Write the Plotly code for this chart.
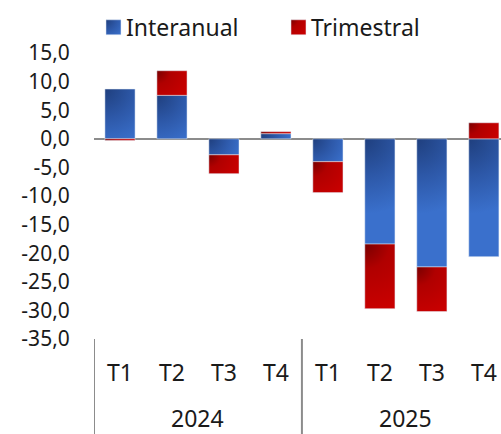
import plotly.graph_objects as go

years = ["2024", "2024", "2024", "2024", "2025", "2025", "2025", "2025"]
quarters = ["T1", "T2", "T3", "T4", "T1", "T2", "T3", "T4"]
interanual = [8.7, 7.6, -2.8, 0.9, -4.0, -18.4, -22.4, -20.6]
trimestral = [-0.3, 4.3, -3.3, 0.35, -5.4, -11.3, -7.8, 2.8]
year_groups = ["2024", "2025"]
ytick_vals = [15, 10, 5, 0, -5, -10, -15, -20, -25, -30, -35]
ytick_text = ["15,0", "10,0", "5,0", "0,0", "-5,0", "-10,0", "-15,0", "-20,0", "-25,0", "-30,0", "-35,0"]

BLUE = "#2e5aa8"
RED = "#b30000"
GRAY = "#8c8c8c"

cats = [f"{q} {y}" for q, y in zip(quarters, years)]

fig = go.Figure()
fig.add_trace(go.Bar(x=cats, y=interanual, name="Interanual", marker_color=BLUE))
fig.add_trace(go.Bar(x=cats, y=trimestral, name="Trimestral", marker_color=RED))

# group dividers and year labels
n_per = len(cats) // len(year_groups)
for gi, yr in enumerate(year_groups):
    start = gi * n_per - 0.5
    fig.add_shape(type="line", xref="x", yref="paper", x0=start, x1=start, y0=0, y1=-0.34,
                  line=dict(color=GRAY, width=2), layer="above")
    fig.add_annotation(text=yr, xref="x", yref="paper", x=start + n_per / 2, y=-0.277,
                       showarrow=False, yanchor="middle", xanchor="center",
                       font=dict(size=23, color="#1a1a1a", family="Noto Sans"))

fig.update_layout(
    width=501, height=434,
    barmode="relative", bargap=0.42,
    plot_bgcolor="white", paper_bgcolor="white",
    font=dict(family="Noto Sans", size=23, color="#1a1a1a"),
    margin=dict(l=94, r=0, t=53, b=95),
    showlegend=True,
    legend=dict(orientation="h", xref="container", yref="container",
                x=0.1866, y=0.937, xanchor="left", yanchor="middle",
                font=dict(size=23), bgcolor="rgba(0,0,0,0)", entrywidth=140),
    xaxis=dict(type="category", range=[-0.5, 7.33], tickvals=cats, ticktext=quarters,
               showgrid=False, showline=False, zeroline=False,
               ticks="outside", ticklen=13, tickcolor="rgba(0,0,0,0)",
               tickfont=dict(size=23), automargin=False),
    yaxis=dict(range=[-35, 15], tickvals=ytick_vals, ticktext=ytick_text,
               showgrid=False, showline=False, zeroline=True, zerolinecolor=GRAY,
               zerolinewidth=2, ticks="outside", ticklen=19, tickcolor="rgba(0,0,0,0)",
               tickfont=dict(size=21), automargin=False, layer="above traces"),
)

post = """
document.body.style.margin = '0';
document.documentElement.style.margin = '0';
var gd = document.getElementById('{plot_id}');
var svg = gd.querySelector('svg.main-svg');
var ns = 'http://www.w3.org/2000/svg';
var defs = svg.querySelector('defs');
if (!defs) { defs = document.createElementNS(ns, 'defs'); svg.insertBefore(defs, svg.firstChild); }
var pals = [[[0,'#1f3f7e'],[0.5,'#2d58a8'],[1,'#3a70cc']], [[0,'#780000'],[0.35,'#b00000'],[1,'#cc0000']]];
var n = 0;
function applyGrad(path, pal, rmax) {
  var bb = path.getBBox();
  if (bb.width <= 0 || bb.height <= 0) return;
  var id = 'rg' + (n++);
  var g = document.createElementNS(ns, 'radialGradient');
  g.setAttribute('id', id);
  g.setAttribute('gradientUnits', 'userSpaceOnUse');
  g.setAttribute('cx', bb.x); g.setAttribute('cy', bb.y);
  g.setAttribute('fx', bb.x); g.setAttribute('fy', bb.y);
  g.setAttribute('r', Math.min(Math.hypot(bb.width, bb.height), rmax));
  pal.forEach(function(s) {
    var st = document.createElementNS(ns, 'stop');
    st.setAttribute('offset', s[0]); st.setAttribute('stop-color', s[1]);
    g.appendChild(st);
  });
  defs.appendChild(g);
  path.style.fill = 'url(#' + id + ')';
}
var traces = gd.querySelectorAll('.barlayer .trace');
traces.forEach(function(t, i) {
  t.querySelectorAll('.point path').forEach(function(p) { applyGrad(p, pals[i], 75); });
});
var leg = gd.querySelectorAll('.legend .traces');
leg.forEach(function(t, i) {
  t.querySelectorAll('.legendpoints path').forEach(function(p) {
    p.setAttribute('d', 'M7.5,7.5H-7.5V-7.5H7.5Z');
    applyGrad(p, pals[i], 21);
  });
  t.querySelectorAll('.legendtext').forEach(function(el) {
    el.setAttribute('x', parseFloat(el.getAttribute('x')) - 7.5);
  });
});
"""

fig.write_html("out.html", post_script=post, config={"displayModeBar": False})
